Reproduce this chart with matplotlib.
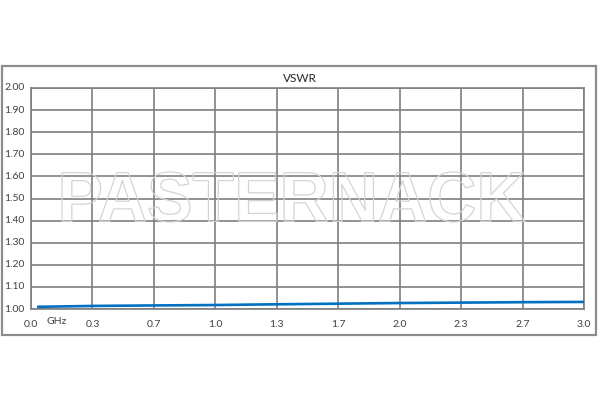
import numpy as np
import matplotlib
matplotlib.use("Agg")
import matplotlib.pyplot as plt
from matplotlib.patches import Rectangle, PathPatch
from matplotlib.textpath import TextPath
from matplotlib.font_manager import FontProperties
from matplotlib.transforms import Affine2D, blended_transform_factory

# data
freq_ghz = [0.04, 0.35, 0.65, 1.0, 1.3, 1.65, 2.0, 2.35, 2.7, 3.0]
vswr = [1.010, 1.014, 1.016, 1.018, 1.021, 1.024, 1.027, 1.029, 1.031, 1.032]
x_ticks = [0, 1/3, 2/3, 1, 4/3, 5/3, 2, 7/3, 8/3, 3]
x_labels = ["0.0", "0.3", "0.7", "1.0", "1.3", "1.7", "2.0", "2.3", "2.7", "3.0"]
y_ticks = [1.0, 1.1, 1.2, 1.3, 1.4, 1.5, 1.6, 1.7, 1.8, 1.9, 2.0]
title = "VSWR"
unit = "GHz"
watermark = "PASTERNACK"

plt.rcParams['font.family'] = ['Lato', 'DejaVu Sans']
grid_col = '#7f7f7f'
text_col = '#404040'

fig = plt.figure(figsize=(6, 4), dpi=100)
fig.patch.set_facecolor('white')

# outer frame
fig.add_artist(Rectangle((2/600, 65/400), 594/600, 269/400, transform=fig.transFigure,
                         fill=False, edgecolor='#8c8c8c', linewidth=1.6))

ax = fig.add_axes([31/600, 91/400, 553/600, 221/400])
ax.plot(freq_ghz, vswr, color='#0070C0', linewidth=1.9, zorder=3)

ax.set_xlim(0, 3)
ax.set_ylim(1.0, 2.0)
ax.set_xticks(x_ticks)
ax.set_xticklabels(x_labels)
ax.set_yticks(y_ticks)
ax.set_yticklabels([])
ax.tick_params(length=0, labelsize=7.5, colors=text_col, pad=8)
ax.grid(True, color=grid_col, linewidth=1.2)
for s in ax.spines.values():
    s.set_color(grid_col)
    s.set_linewidth(1.2)
ax.set_axisbelow(True)

# y labels sit at the left edge of the frame
tr = blended_transform_factory(fig.transFigure, ax.transData)
for v in y_ticks:
    ax.text(4/600, v, f"{v:.2f}", transform=tr, ha='left', va='center',
            fontsize=7.5, color=text_col)

ax.text(57/600, 78/400, unit, transform=fig.transFigure, ha='center', va='center',
        fontsize=7.5, color=text_col)
fig.text(0.5, 321/400, title, ha='center', va='center', fontsize=8.5, color='#262626')

# outlined watermark
tp = TextPath((0, 0), watermark, size=50, prop=FontProperties(family='Liberation Sans', weight='bold'))
bb = tp.get_extents()
x0, x1 = 62/600, 525/600
y0, y1 = (400-222)/400, (400-172)/400
t = Affine2D().translate(-bb.x0, -bb.y0).scale((x1-x0)/bb.width, (y1-y0)/bb.height).translate(x0, y0)
fig.add_artist(PathPatch(tp, transform=t + fig.transFigure, facecolor='none',
                         edgecolor='#d4d4d4', linewidth=0.9, zorder=2))

fig.savefig("out.png", dpi=100)
